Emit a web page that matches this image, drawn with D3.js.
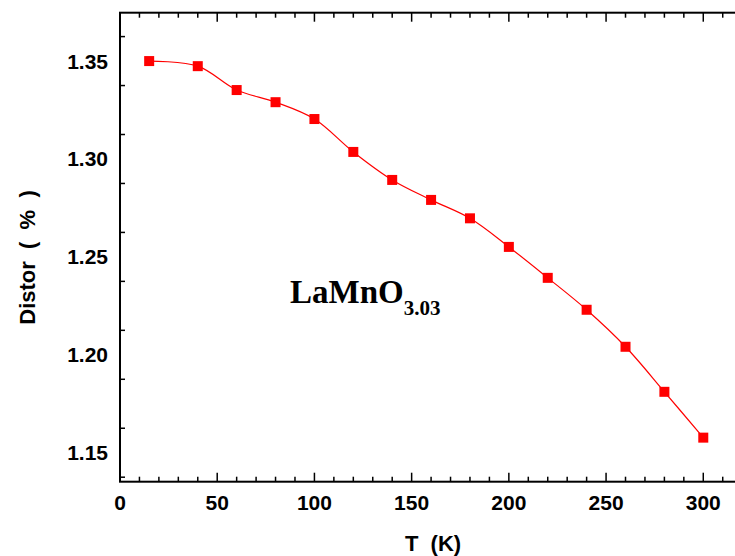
<!DOCTYPE html>
<html>
<head>
<meta charset="utf-8">
<script src="https://cdn.jsdelivr.net/npm/d3@7"></script>
<style>
  html, body { margin: 0; padding: 0; background: #fff; overflow: hidden; }
  svg { display: block; }
</style>
</head>
<body>
<svg id="chart" width="735" height="556"></svg>
<script>
const temperatures = [15, 40, 60, 80, 100, 120, 140, 160, 180, 200, 220, 240, 260, 280, 300];
const distortion = [1.350, 1.3474, 1.3352, 1.329, 1.3204, 1.3036, 1.2893, 1.2791, 1.2697, 1.2551, 1.2393, 1.2230, 1.2041, 1.1811, 1.1577];
const xTicks = [0, 50, 100, 150, 200, 250, 300];
const yTicks = [1.15, 1.20, 1.25, 1.30, 1.35];
const xLabel = "T  (K)";
const yLabel = "Distor  (  %  )";
const annotation = "LaMnO";
const annotationSub = "3.03";

(function () {
const svg = d3.select("#chart");
const pLeft = 120, pRight = 741, pTop = 12.7, pBottom = 481.7;

const x = d3.scaleLinear().domain([0, 319.4]).range([pLeft, pRight]);
const y = d3.scaleLinear().domain([1.1352, 1.3747]).range([pBottom, pTop]);

const font = "'Liberation Sans', Arial, sans-serif";
const axisColor = "#000";

const xMinor = d3.range(0, 320, 10);
const yMinor = d3.range(1.1375, 1.375, 0.025).map(v => +v.toFixed(4));
const isMajorY = d => Math.round(d * 1000) % 50 === 0;

const g = svg.append("g");

g.selectAll(".xb").data(xMinor).enter().append("line")
  .attr("x1", d => x(d)).attr("x2", d => x(d))
  .attr("y1", pBottom).attr("y2", d => pBottom - (d % 50 === 0 ? 9 : 5))
  .attr("stroke", axisColor).attr("stroke-width", 1.5);
g.selectAll(".xt").data(xMinor).enter().append("line")
  .attr("x1", d => x(d)).attr("x2", d => x(d))
  .attr("y1", pTop).attr("y2", d => pTop + (d % 50 === 0 ? 9 : 5))
  .attr("stroke", axisColor).attr("stroke-width", 1.5);
g.selectAll(".yl").data(yMinor).enter().append("line")
  .attr("x1", pLeft).attr("x2", d => pLeft + (isMajorY(d) ? 9 : 5))
  .attr("y1", d => y(d)).attr("y2", d => y(d))
  .attr("stroke", axisColor).attr("stroke-width", 1.5);
g.selectAll(".yr").data(yMinor).enter().append("line")
  .attr("x1", pRight).attr("x2", d => pRight - (isMajorY(d) ? 9 : 5))
  .attr("y1", d => y(d)).attr("y2", d => y(d))
  .attr("stroke", axisColor).attr("stroke-width", 1.5);

g.append("rect").attr("x", pLeft).attr("y", pTop)
  .attr("width", pRight - pLeft).attr("height", pBottom - pTop)
  .attr("fill", "none").attr("stroke", axisColor).attr("stroke-width", 2);

g.selectAll(".xl").data(xTicks).enter().append("text")
  .attr("x", d => x(d)).attr("y", pBottom + 28)
  .attr("text-anchor", "middle")
  .attr("font-family", font).attr("font-weight", "bold").attr("font-size", 21)
  .text(d => d);
g.selectAll(".ylab").data(yTicks).enter().append("text")
  .attr("x", pLeft - 12).attr("y", d => y(d) + 7.5)
  .attr("text-anchor", "end")
  .attr("font-family", font).attr("font-weight", "bold").attr("font-size", 21)
  .text(d => d.toFixed(2));

svg.append("text").attr("x", 433).attr("y", 551)
  .attr("text-anchor", "middle")
  .attr("font-family", font).attr("font-weight", "bold").attr("font-size", 22)
  .style("white-space", "pre")
  .text(xLabel);
svg.append("text").attr("transform", "translate(35,257.5) rotate(-90)")
  .attr("text-anchor", "middle")
  .attr("font-family", font).attr("font-weight", "bold").attr("font-size", 22)
  .style("white-space", "pre")
  .text(yLabel);

const pts = temperatures.map((t, i) => [t, distortion[i]]);
const line = d3.line().x(d => x(d[0])).y(d => y(d[1])).curve(d3.curveCatmullRom.alpha(0.5));
svg.append("path").datum(pts).attr("d", line)
  .attr("fill", "none").attr("stroke", "#ff0000").attr("stroke-width", 1.2);

const ms = 10;
svg.selectAll(".pt").data(pts).enter().append("rect")
  .attr("x", d => x(d[0]) - ms / 2).attr("y", d => y(d[1]) - ms / 2)
  .attr("width", ms).attr("height", ms).attr("fill", "#ff0000");

const ann = svg.append("text").attr("x", 290).attr("y", 303)
  .attr("font-family", "'Liberation Serif', 'Times New Roman', serif")
  .attr("font-weight", "bold").attr("font-size", 33);
ann.append("tspan").text(annotation);
ann.append("tspan").attr("font-size", 21).attr("dy", 12).text(annotationSub);
})();
</script>
</body>
</html>
